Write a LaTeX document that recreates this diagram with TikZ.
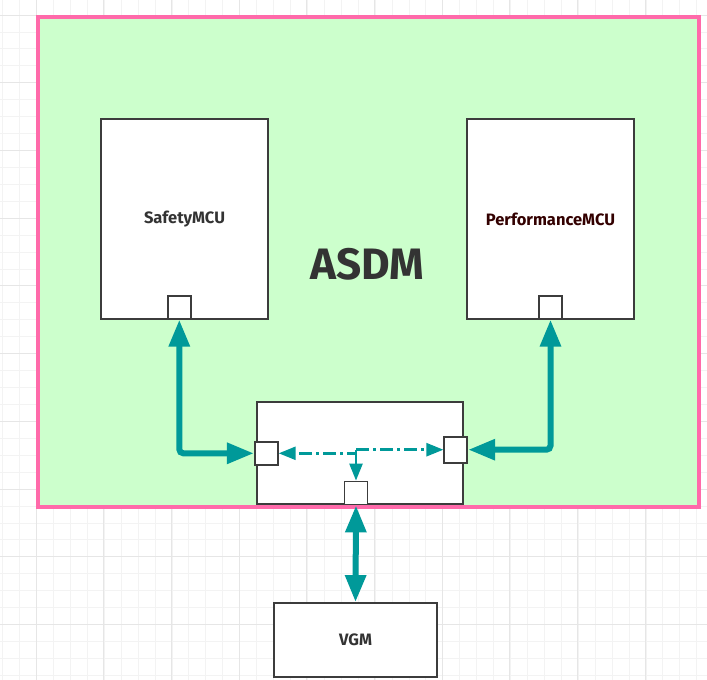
\documentclass[tikz,border=0pt]{standalone}
\usepackage{fontspec}
\setmainfont{Fira Sans}
\usetikzlibrary{arrows.meta}
\definecolor{gridminor}{HTML}{F3F3F3}
\definecolor{gridmajor}{HTML}{E6E6E6}
\definecolor{zonegreen}{HTML}{CCFFCC}
\definecolor{zonepink}{HTML}{FF6AAA}
\definecolor{linkteal}{HTML}{009999}
\definecolor{boxgray}{HTML}{3C3C3C}
\definecolor{txtgray}{HTML}{333333}
\definecolor{txtred}{HTML}{330000}
\begin{document}
\begin{tikzpicture}[x=1pt,y=-1pt,
	box/.style={draw=boxgray,fill=white,line width=1.8pt,inner sep=0pt,font=\bfseries\fontsize{16.5}{18}\selectfont,text=txtgray},
	port/.style={draw=boxgray,fill=white,line width=1.8pt,inner sep=0pt,minimum width=23pt,minimum height=23pt},
	biglink/.style={draw=linkteal,line width=6pt,rounded corners=4pt,{Triangle[length=27pt,width=20pt]}-{Triangle[length=27pt,width=20pt]}},
	dashlink/.style={draw=linkteal,line width=2.5pt,dash pattern=on 13pt off 4pt on 3pt off 4pt,-{Triangle[length=17pt,width=13pt]}}]
	\useasboundingbox (0,0) rectangle (707,680);
	\fill[white] (0,0) rectangle (707,680);
	% grid
	\foreach \i in {0,...,41} {
		\draw[gridminor,line width=1pt] ({2.7+16.93*\i},0) -- ++(0,680);
		\draw[gridminor,line width=1pt] (0,{15.1+16.93*\i}) -- ++(707,0);
	}
	\foreach \i in {0,...,9} {
		\draw[gridmajor,line width=1pt] ({36+67.7*\i},0) -- ++(0,680);
		\draw[gridmajor,line width=1pt] (0,{15.1+67.7*\i}) -- ++(707,0);
	}
	% ASDM zone
	\draw[draw=zonepink,fill=zonegreen,line width=3.5pt] (38,17) rectangle (699,507);
	\node[font=\bfseries\fontsize{44}{48}\selectfont,text=txtgray] (asdm) at (367.5,264.5) {ASDM};
	% boxes
	\node[box,minimum width=167pt,minimum height=200pt] (safety) at (184.5,219) {SafetyMCU};
	\node[box,minimum width=167pt,minimum height=200pt,text=txtred] (perf) at (550.5,219) {PerformanceMCU};
	\node[box,minimum width=206pt,minimum height=102pt] (switch) at (360,452.8) {};
	\node[box,minimum width=163pt,minimum height=74pt] (vgm) at (355.5,640) {VGM};
	% ports
	\node[port] (sport) at (179.3,307.2) {};
	\node[port] (pport) at (550.5,307.2) {};
	\node[port] (lport) at (266.3,453.3) {};
	\node[port,minimum height=26pt] (rport) at (455.8,449.7) {};
	\node[port] (bport) at (356,493) {};
	% links
	\draw[biglink] (sport.south) |- (lport.west);
	\draw[biglink] (rport.east) -| (pport.south);
	\draw[biglink] (bport.south) -- (vgm.north);
	\coordinate (split) at (bport |- rport);
	\draw[dashlink] (split) |- (lport.east);
	\draw[dashlink] (split) -- (rport.west);
	\draw[dashlink,solid] (split) -- (bport.north);
\end{tikzpicture}
\end{document}
